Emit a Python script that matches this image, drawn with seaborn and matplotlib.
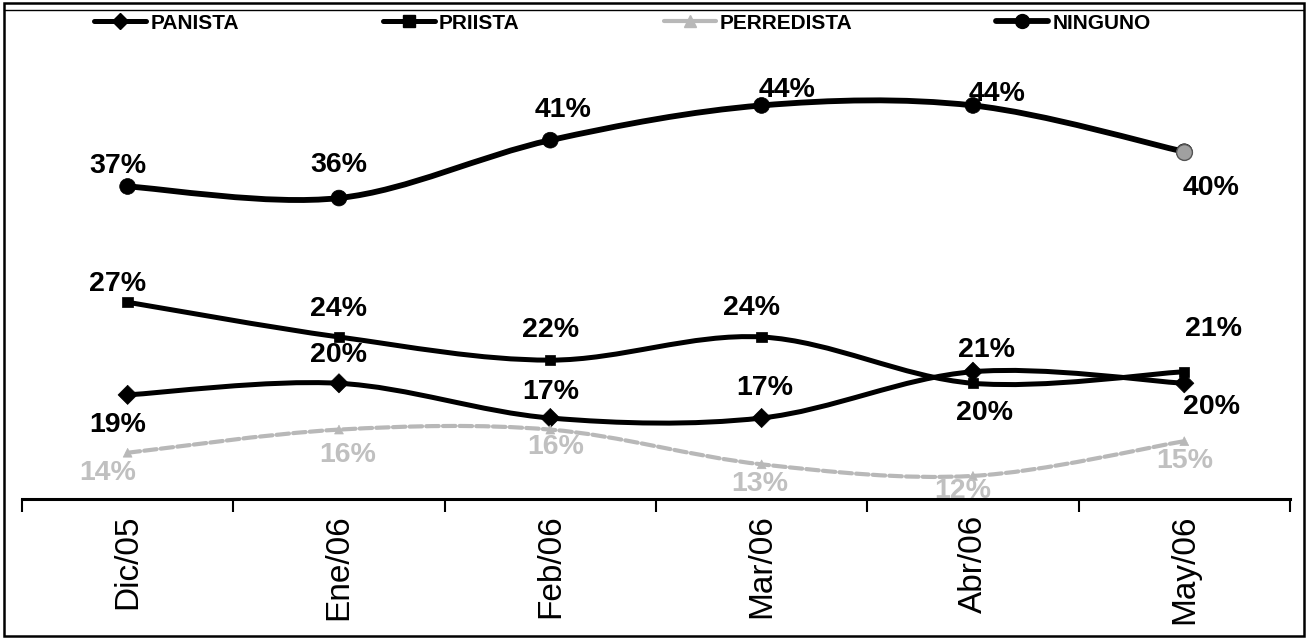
import numpy as np
import pandas as pd
import matplotlib
matplotlib.use('Agg')
import matplotlib.pyplot as plt
from matplotlib.path import Path
from matplotlib.patches import PathPatch, Rectangle
from matplotlib.lines import Line2D
import seaborn as sns

# data (percent)
meses = ['Dic/05', 'Ene/06', 'Feb/06', 'Mar/06', 'Abr/06', 'May/06']
panista = [19, 20, 17, 17, 21, 20]
priista = [27, 24, 22, 24, 20, 21]
perredista = [14, 16, 16, 13, 12, 15]
ninguno = [37, 36, 41, 44, 44, 40]
series = ['PANISTA', 'PRIISTA', 'PERREDISTA', 'NINGUNO']

# label offsets in pixels (dx, dy), placement only
off_panista = [(-10, -30), (0, 28), (0, 26), (3, 30), (14, 22), (27, -24)]
off_priista = [(-10, 18), (0, 28), (0, 30), (-10, 29), (12, -30), (29, 43)]
off_perredista = [(-20, -20), (9, -25), (5, -17), (-2, -20), (-10, -15), (0, -20)]
off_ninguno = [(-10, 20), (0, 33), (13, 30), (25, 15), (24, 11), (27, -36)]

sns.set_style('white')
plt.rcParams['font.family'] = ['Liberation Sans', 'DejaVu Sans']

df = pd.DataFrame({
    'mes': meses * 4,
    'serie': np.repeat(series, len(meses)),
    'valor': panista + priista + perredista + ninguno,
})

colores = {'PANISTA': 'black', 'PRIISTA': 'black', 'PERREDISTA': '#b8b8b8', 'NINGUNO': 'black'}
marcas = {'PANISTA': 'D', 'PRIISTA': 's', 'PERREDISTA': '^', 'NINGUNO': 'o'}
tamanos = {'PANISTA': 95, 'PRIISTA': 55, 'PERREDISTA': 40, 'NINGUNO': 130}
grosor = {'PANISTA': 3.6, 'PRIISTA': 3.6, 'PERREDISTA': 3.0, 'NINGUNO': 4.2}


def curva(ys):
    # smoothed line like the spreadsheet one (Catmull-Rom as bezier)
    pts = np.column_stack([np.arange(len(ys)), ys]).astype(float)
    pad = np.vstack([pts[0], pts, pts[-1]])
    verts = [pts[0]]
    codes = [Path.MOVETO]
    for i in range(len(pts) - 1):
        p0, p1, p2, p3 = pad[i], pad[i + 1], pad[i + 2], pad[i + 3]
        verts += [p1 + (p2 - p0) / 6, p2 - (p3 - p1) / 6, p2]
        codes += [Path.CURVE4] * 3
    return Path(verts, codes)


fig = plt.figure(figsize=(13.08, 6.39), dpi=100)
ax = fig.add_axes([0.0168, 0.2190, 0.9694, 0.7247])

valores = {'PANISTA': panista, 'PRIISTA': priista, 'PERREDISTA': perredista, 'NINGUNO': ninguno}
offsets = {'PANISTA': off_panista, 'PRIISTA': off_priista, 'PERREDISTA': off_perredista, 'NINGUNO': off_ninguno}

for s in ['PERREDISTA', 'PANISTA', 'PRIISTA', 'NINGUNO']:
    ls = (0, (3, 1)) if s == 'PERREDISTA' else '-'
    ax.add_patch(PathPatch(curva(valores[s]), fill=False, edgecolor=colores[s],
                           lw=grosor[s], linestyle=ls, capstyle='round', zorder=2))

sns.scatterplot(data=df, x='mes', y='valor', hue='serie', style='serie', size='serie',
                palette=colores, markers=marcas, sizes=tamanos, edgecolor=None,
                legend=False, ax=ax, zorder=3)
# last NINGUNO point is drawn grey in the original
ult = df[(df.serie == 'NINGUNO') & (df.mes == meses[-1])]
sns.scatterplot(data=ult, x='mes', y='valor', color='#a0a0a0', marker='o', s=130,
                edgecolor='#555555', linewidth=1, legend=False, ax=ax, zorder=4)

for s in series:
    c = '#c0c0c0' if s == 'PERREDISTA' else 'black'
    for i, v in enumerate(valores[s]):
        dx, dy = offsets[s][i]
        ax.annotate(f'{v}%', (i, v), xytext=(dx, dy), textcoords='offset pixels',
                    ha='center', va='center', fontsize=20.5, fontweight='bold', color=c, zorder=5)

ax.set_xlim(-0.5, len(meses) - 0.5)
ax.set_ylim(10, 50)
ax.set_xlabel('')
ax.set_ylabel('')
ax.set_yticks([])
ax.set_xticks(range(len(meses)))
ax.set_xticklabels(meses, rotation=90, fontsize=24)
ax.set_xticks(np.arange(-0.5, len(meses)), minor=True)
ax.tick_params(axis='x', which='major', bottom=False, length=0, pad=11, labelcolor='black')
ax.tick_params(axis='x', which='minor', bottom=True, length=9, width=1.5,
               color='black', direction='out')
for lado in ['left', 'right', 'top']:
    ax.spines[lado].set_visible(False)
ax.spines['bottom'].set_linewidth(2.2)
ax.spines['bottom'].set_color('black')
ax.patch.set_alpha(0)

handles = [Line2D([], [], color=colores[s], lw=grosor[s], marker=marcas[s],
                  markersize=8 if s != 'NINGUNO' else 10, label=s) for s in series]
fig.legend(handles=handles, loc='center left', bbox_to_anchor=(0.064, 0.964), ncol=4,
           frameon=False, prop={'size': 15, 'weight': 'bold'}, handlelength=2.5,
           handletextpad=0.2, columnspacing=6.9, borderpad=0, labelcolor='black')

fig.add_artist(Rectangle((0.003, 0.005), 0.994, 0.99, transform=fig.transFigure,
                         fill=False, edgecolor='black', lw=1.8))
fig.add_artist(Line2D([0.003, 0.997], [0.985, 0.985], transform=fig.transFigure,
                      color='black', lw=1.0))

fig.savefig('out.png', dpi=100)
